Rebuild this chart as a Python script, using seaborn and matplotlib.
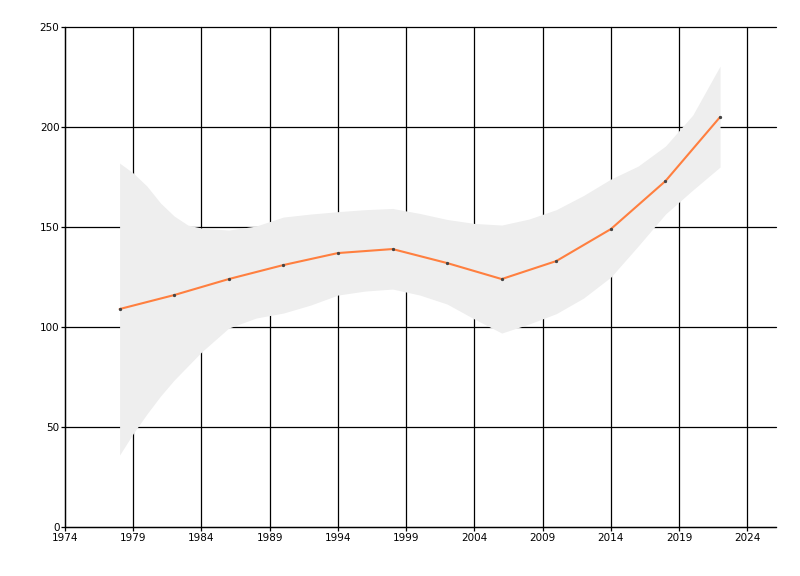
import numpy as np
import pandas as pd
import matplotlib
matplotlib.use("Agg")
import matplotlib.pyplot as plt
import seaborn as sns

# --- Data ---
years = [1978, 1982, 1986, 1990, 1994, 1998, 2002, 2006, 2010, 2014, 2018, 2022]
values = [109, 116, 124, 131, 137, 139, 132, 124, 133, 149, 173, 205]

# confidence band
band_years = [1978, 1979, 1980, 1981, 1982, 1983, 1984, 1986, 1988, 1990, 1992, 1994, 1996,
              1998, 2000, 2002, 2004, 2006, 2008, 2010, 2012, 2014, 2016, 2018, 2020, 2022]
band_upper = [182, 177, 170.5, 162, 155.5, 151, 149.5, 148.5, 150.5, 155, 156.5, 157.7, 158.7,
              159.3, 156.8, 153.8, 151.8, 151, 154, 158.7, 165.8, 174, 180.5, 190.5, 206, 230.5]
band_lower = [36, 46.8, 56.5, 65.5, 73.5, 80.5, 87.5, 99.5, 104.5, 107, 111, 116, 118,
              119, 116, 111.5, 104, 97, 101.5, 106.7, 114.5, 125, 140.5, 156.5, 168.5, 180]

x_ticks = [1974, 1979, 1984, 1989, 1994, 1999, 2004, 2009, 2014, 2019, 2024]
y_ticks = [0, 50, 100, 150, 200, 250]

df = pd.DataFrame({"year": years, "value": values})

# --- Plot ---
sns.set_style("white")
plt.rcParams["font.family"] = ["DejaVu Sans"]

fig = plt.figure(figsize=(8, 5.76), dpi=100)
ax = fig.add_axes([0.08125, 0.085, 0.97 - 0.08125, 0.953 - 0.085])

ax.fill_between(band_years, band_lower, band_upper, color="#eeeeee", linewidth=0, zorder=2)
sns.lineplot(data=df, x="year", y="value", ax=ax, color="#ff7f3f", linewidth=1.5,
             marker="o", markersize=1.6, markerfacecolor="#444444", markeredgecolor="#444444",
             zorder=3)

ax.set_xlim(1974, 2026.1)
ax.set_ylim(0, 250)
ax.set_xticks(x_ticks)
ax.set_yticks(y_ticks)
ax.grid(True, color="black", linewidth=0.9)
ax.set_axisbelow(True)
for gl in ax.get_ygridlines() + ax.get_xgridlines():
    gl.set_clip_on(False)

ax.spines["top"].set_visible(False)
ax.spines["right"].set_visible(False)
ax.spines["left"].set_color("black")
ax.spines["bottom"].set_color("black")
ax.spines["left"].set_linewidth(0.9)
ax.spines["bottom"].set_linewidth(0.9)
ax.tick_params(axis="both", direction="out", length=3, width=0.9, color="black",
               labelcolor="black", labelsize=7.5, pad=1, bottom=True, left=True)
ax.set_xlabel("")
ax.set_ylabel("")

fig.savefig("out.png", dpi=100)
